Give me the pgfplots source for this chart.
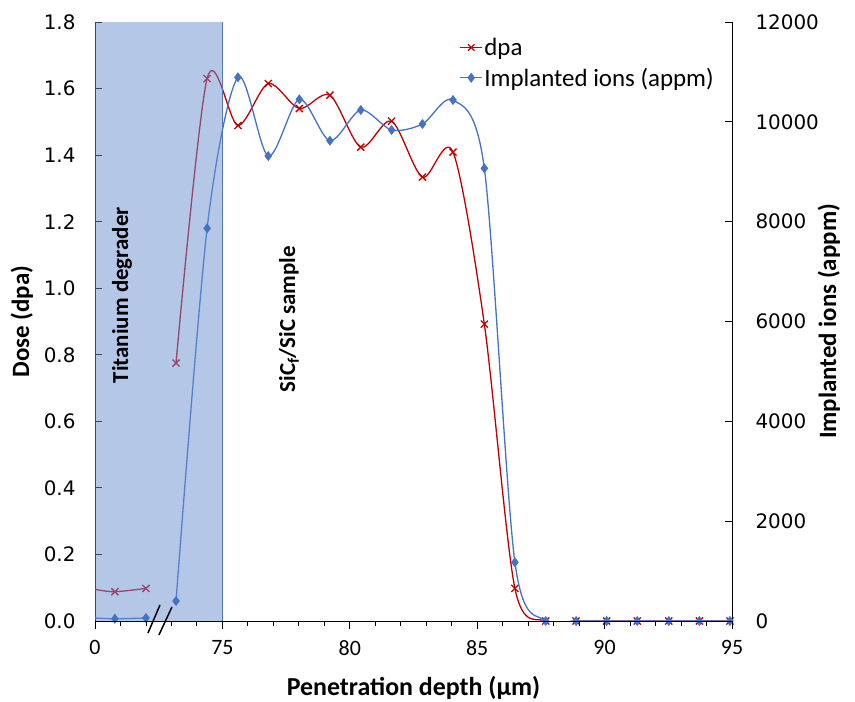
\documentclass[border=0pt]{standalone}
\usepackage{pgfplots}
\pgfplotsset{compat=1.18}
\usepackage{fontspec}
\setmainfont{Carlito}
\newfontfamily\dejavu{DejaVu Sans}
\definecolor{dpared}{RGB}{192,0,0}
\definecolor{ionblue}{RGB}{68,114,196}
\definecolor{shadeblue}{RGB}{105,143,207}
\definecolor{shadeedge}{RGB}{84,118,188}
\begin{document}
\begin{tikzpicture}
\pgfplotsset{
  common/.style={scale only axis, width=637bp, height=599bp, xmin=70, xmax=95},
  yticks/.style={tick align=inside, major tick length=7bp,
    tick style={black, line width=0.9bp},
    /pgf/number format/assume math mode=true,
    axis line style={black, line width=0.9bp},
    label style={font=\bfseries\fontsize{25}{30}\selectfont}},
}
% Axis A: dpa, left axis
\begin{axis}[common, name=ax, ymin=0, ymax=1.8, yticks,
  axis y line*=left, axis x line=none,
  ytick={0,0.2,...,1.8},
  yticklabel style={font=\dejavu\fontsize{20}{24}\selectfont, xshift=-16bp,
    /pgf/number format/fixed, /pgf/number format/fixed zerofill, /pgf/number format/precision=1},
  ylabel={Dose (dpa)}, ylabel style={yshift=4bp}]
\addplot[dpared, line width=1.3bp, smooth, mark=x, mark size=5bp, mark indices={2,3}, mark options={line width=1.3bp}] coordinates {
(70,0.095) (70.78,0.088) (72.00,0.098)};
\addplot[dpared, line width=1.3bp, smooth, mark=x, mark size=5bp, mark options={line width=1.3bp}] coordinates {
(73.18,0.775) (74.40,1.630) (75.61,1.489) (76.80,1.615) (78.02,1.540) (79.22,1.580)
(80.43,1.424) (81.64,1.502) (82.85,1.334) (84.05,1.409) (85.28,0.892) (86.48,0.098)
(87.69,0) (88.88,0) (90.08,0) (91.28,0) (92.52,0) (93.72,0) (94.92,0)};
\end{axis}
% Axis B: appm, right axis
\begin{axis}[common, ymin=0, ymax=12000, yticks,
  axis y line*=right, axis x line=none,
  ytick={0,2000,...,12000},
  yticklabel style={font=\dejavu\fontsize{20}{24}\selectfont, xshift=20bp,
    /pgf/number format/fixed, /pgf/number format/1000 sep={}},
  scaled y ticks=false,
  ylabel={Implanted ions (appm)}, ylabel style={yshift=8bp},
  legend style={draw=none, fill=none, at={(0.572,0.976)}, anchor=north west,
    inner sep=0pt, font=\fontsize{25}{30}\selectfont, row sep=8bp,
    cells={anchor=west}, nodes={inner sep=1.5bp}},
  legend image code/.code={\draw[#1] (0bp,0bp) -- (22bp,0bp); \draw[#1, mark repeat=1] plot coordinates {(11bp,0bp)};}]
\addlegendimage{dpared, line width=1.3bp, mark=x, mark size=4.5bp, mark options={line width=1.3bp}}
\addlegendentry{dpa}
\addplot[ionblue, line width=1.3bp, smooth, mark=diamond*, mark size=4bp, mark indices={2,3}, forget plot] coordinates {
(70,60) (70.78,45) (72.00,60)};
\addplot[ionblue, line width=1.3bp, smooth, mark=diamond*, mark size=4bp] coordinates {
(73.18,400) (74.40,7867) (75.61,10892) (76.80,9315) (78.02,10451) (79.22,9622)
(80.43,10237) (81.64,9836) (82.85,9956) (84.05,10437) (85.28,9069) (86.48,1176)
(87.69,0) (88.88,0) (90.08,0) (91.28,0) (92.52,0) (93.72,0) (94.92,0)};
\addlegendentry{Implanted ions (appm)}
\fill[shadeblue, fill opacity=0.5] (axis cs:70,0) rectangle (axis cs:75,12000);
\draw[shadeedge, line width=1.3bp] (axis cs:75,0) -- (axis cs:75,12000);
\end{axis}
% Axis C: x axis, annotations, break marks
\begin{axis}[common, ymin=0, ymax=1.8, clip=false,
  axis x line*=bottom, axis y line=none,
  tick align=outside, major tick length=8bp, minor tick length=5bp,
  tick style={black, line width=0.9bp},
  axis line style={black, line width=0.9bp},
  xtick={70,75,80,85,90,95}, xticklabels={0,75,80,85,90,95},
  minor x tick num=4,
  xticklabel style={font=\fontsize{22}{26}\selectfont, yshift=-8bp},
  xlabel={Penetration depth (µm)},
  xlabel style={font=\bfseries\fontsize{26}{31}\selectfont, yshift=-14bp}]
\node[rotate=90, font=\bfseries\fontsize{23}{28}\selectfont] at (axis cs:71.06,0.979) {Titanium degrader};
\node[rotate=90, font=\bfseries\fontsize{23}{28}\selectfont] at (axis cs:77.61,0.907) {SiC\textsubscript{f}/SiC sample};
\draw[black, line width=1.5bp] (axis cs:72.55,0.048) -- (axis cs:72.08,-0.036);
\draw[black, line width=1.5bp] (axis cs:73.02,0.042) -- (axis cs:72.51,-0.042);
\end{axis}
\pgfresetboundingbox
\path ([xshift=-95bp, yshift=-81bp]ax.south west) rectangle ([xshift=123bp, yshift=22bp]ax.north east);
\end{tikzpicture}
\end{document}
